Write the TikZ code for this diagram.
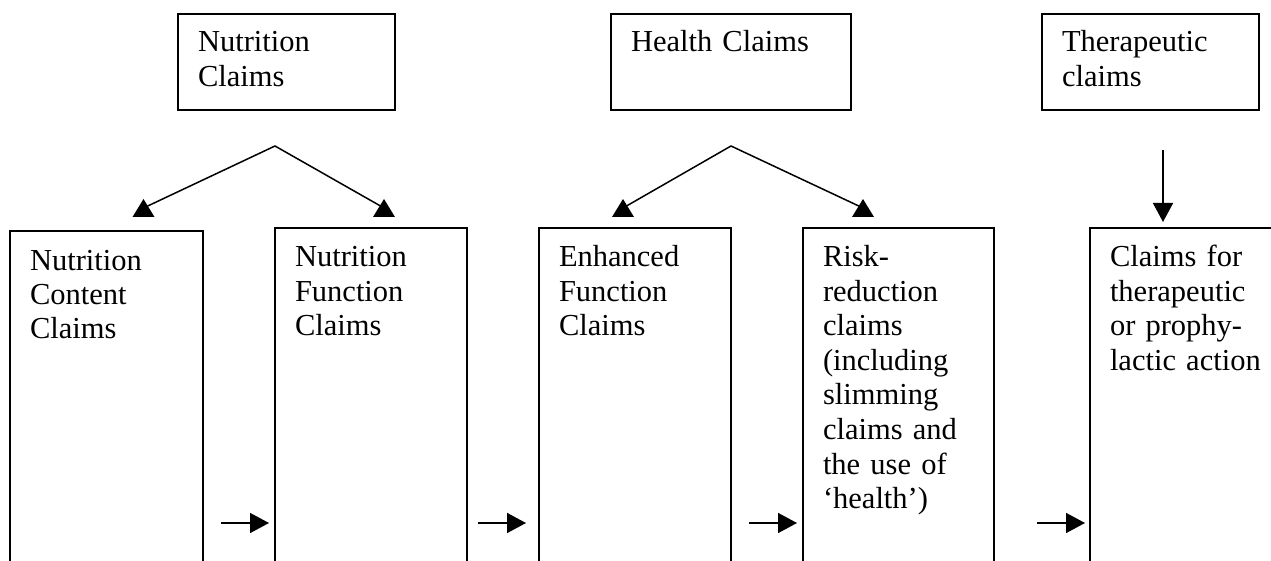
\documentclass[tikz,border=0pt]{standalone}
\usepackage{fontspec}
\setmainfont{Liberation Serif}
\usetikzlibrary{arrows.meta}
\begin{document}
\begin{tikzpicture}[x=1pt,y=-1pt,
  every node/.style={font=\fontsize{30.5}{34.5}\selectfont},
  claimbox/.style={draw, line width=1.5pt, rectangle, anchor=north west,
    outer sep=0pt, inner xsep=20pt, inner ysep=0pt, align=left},
  headbox/.style={claimbox, text height=38pt, text depth=58pt},
  tallbox/.style={claimbox, text height=39pt, text depth=420pt},
  link/.style={line width=1.5pt},
  flow/.style={line width=1.5pt, -{Triangle[length=19pt,width=20pt]}},
  uptri/.pic={\fill (-11,9) -- (11,9) -- (0,-9) -- cycle;}
]
\useasboundingbox (0,0) rectangle (1271,561);
\clip (0,0) rectangle (1271,561);

% claim categories
\node[headbox, text width=177pt] (nut) at (178,14) {Nutrition\\Claims};
\node[headbox, text width=200pt] (hea) at (611,14) {Health Claims};
\node[headbox, text width=177pt] (the) at (1042,14) {Therapeutic\\claims};

% claim types, open at the bottom
\node[tallbox, text width=153pt] (ncc) at (10,231) {Nutrition\\Content\\Claims};
\node[tallbox, text width=152pt] (nfc) at (275,228) {Nutrition\\Function\\Claims};
\node[tallbox, text width=152pt] (efc) at (539,228) {Enhanced\\Function\\Claims};
\node[tallbox, text width=151pt] (rrc) at (803,228) {Risk-\\reduction\\claims\\(including\\slimming\\claims and\\the use of\\‘health’)};
\node[tallbox, text width=152pt] (tpc) at (1090,228) {Claims for\\therapeutic\\or prophy-\\lactic action};

% branching under the nutrition and health categories
\coordinate (nutapex) at (275,146);
\coordinate (nutl) at (143.5,208);
\coordinate (nutr) at (384,208);
\coordinate (heaapex) at (731,146);
\coordinate (heal) at (623,208);
\coordinate (hear) at (863,208);
\draw[link] (nutl) -- (nutapex) -- (nutr);
\draw[link] (heal) -- (heaapex) -- (hear);
\pic at (nutl) {uptri};
\pic at (nutr) {uptri};
\pic at (heal) {uptri};
\pic at (hear) {uptri};

% therapeutic branch
\coordinate (thetop) at (1163,150);
\coordinate (thetip) at (1163,222);
\draw[flow] (thetop) -- (thetip);

% progression between claim types
\coordinate (f1a) at (221,523); \coordinate (f1b) at (269,523);
\coordinate (f2a) at (478,523); \coordinate (f2b) at (526,523);
\coordinate (f3a) at (749,523); \coordinate (f3b) at (797,523);
\coordinate (f4a) at (1037,523); \coordinate (f4b) at (1085,523);
\draw[flow] (f1a) -- (f1b);
\draw[flow] (f2a) -- (f2b);
\draw[flow] (f3a) -- (f3b);
\draw[flow] (f4a) -- (f4b);
\end{tikzpicture}
\end{document}
